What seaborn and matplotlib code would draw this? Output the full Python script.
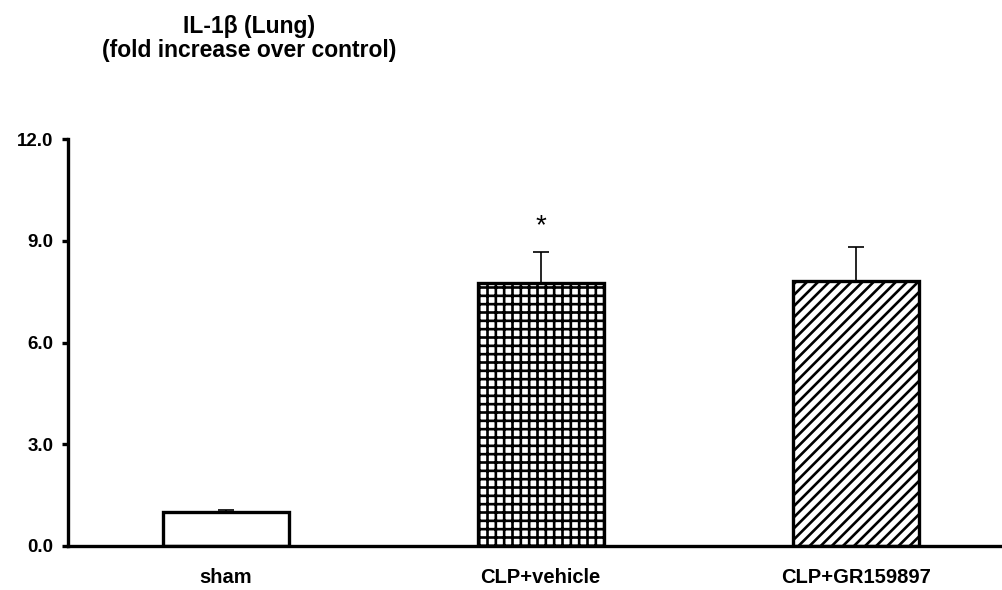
import matplotlib
matplotlib.use("Agg")
import matplotlib.pyplot as plt
import seaborn as sns
import pandas as pd
import numpy as np

categories = ["sham", "CLP+vehicle", "CLP+GR159897"]
means = [1.0, 7.76, 7.82]
sems = [0.05, 0.92, 1.0]
hatches = ["", "++", "///"]
y_ticks = [0.0, 3.0, 6.0, 9.0, 12.0]
title_text = "IL-1\u03b2 (Lung)\n(fold increase over control)"
star_label = "*"
star_y = 9.42

sns.set_theme(style="white")
plt.rcParams["font.family"] = ["Liberation Sans", "DejaVu Sans"]
plt.rcParams["hatch.linewidth"] = 1.9
plt.rcParams["hatch.color"] = "black"
plt.rcParams["text.color"] = "black"
plt.rcParams["xtick.color"] = "black"
plt.rcParams["ytick.color"] = "black"
plt.rcParams["xtick.labelcolor"] = "black"
plt.rcParams["ytick.labelcolor"] = "black"

df = pd.DataFrame({"group": categories, "value": means})

fig = plt.figure(figsize=(10.03, 5.90), dpi=100)
ax = fig.add_axes([0.0678, 0.0746, 0.929, 0.6895])

sns.barplot(data=df, x="group", y="value", order=categories, color="white",
            edgecolor="black", linewidth=2.4, width=0.4, errorbar=None, ax=ax,
            saturation=1)
for patch, h in zip(ax.patches, hatches):
    patch.set_hatch(h)
    patch.set_facecolor("white")
    patch.set_edgecolor("black")

xs = np.arange(len(categories))
ax.errorbar(xs, means, yerr=[np.zeros(len(sems)), sems], fmt="none",
            ecolor="black", elinewidth=1.2, capsize=5.5, capthick=1.2, zorder=1)

ax.text(1, star_y, star_label, ha="center", va="center", fontsize=20,
        color="black")

ax.set_ylim(0, 12)
ax.set_xlim(-0.5, 2.457)
ax.set_yticks(y_ticks)
ax.set_yticklabels([f"{t:.1f}" for t in y_ticks], fontsize=13.5,
                   fontweight="bold", color="black")
ax.set_xticks(xs)
ax.set_xticklabels(categories, fontsize=14.5, fontweight="bold", color="black")
ax.set_xlabel("")
ax.set_ylabel("")

for s in ["top", "right"]:
    ax.spines[s].set_visible(False)
for s in ["left", "bottom"]:
    ax.spines[s].set_linewidth(2.4)
    ax.spines[s].set_color("black")

ax.tick_params(axis="y", direction="out", length=4.5, width=2.4, color="black",
               left=True, pad=6)
ax.tick_params(axis="x", length=0, pad=16)

fig.text(0.248, 0.975, title_text, ha="center", va="top", fontsize=16.5,
         fontweight="bold", linespacing=1.08, color="black")

fig.savefig("out.png", dpi=100)
